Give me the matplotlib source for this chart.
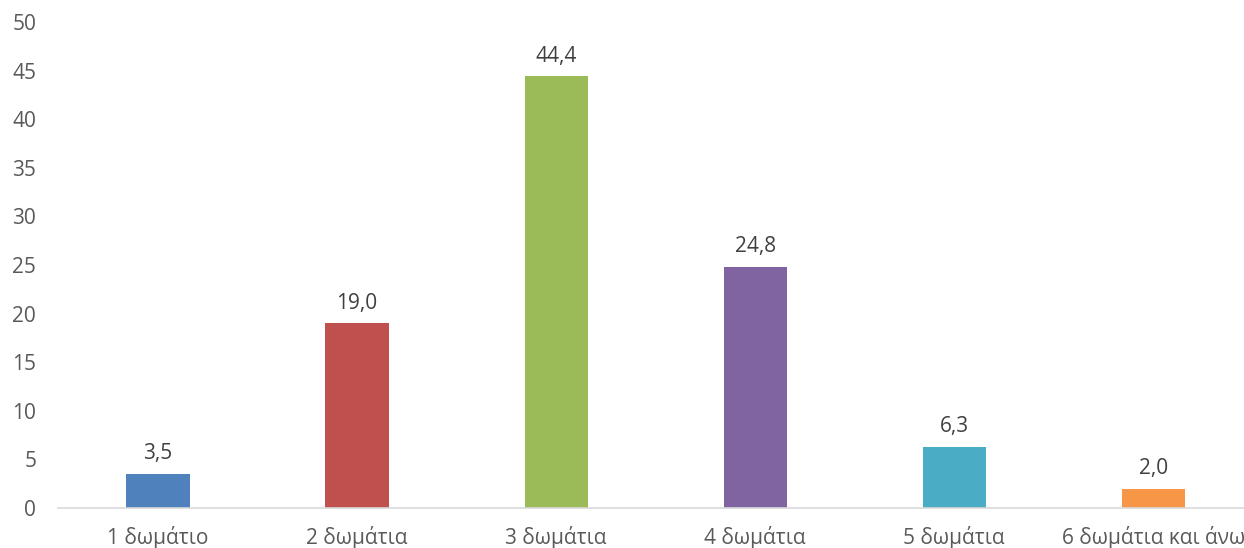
import matplotlib.pyplot as plt

plt.rcParams['font.family'] = ['Open Sans', 'DejaVu Sans']

categories = ["1 δωμάτιο", "2 δωμάτια", "3 δωμάτια", "4 δωμάτια", "5 δωμάτια", "6 δωμάτια και άνω"]
values = [3.5, 19.0, 44.4, 24.8, 6.3, 2.0]
colors = ["#4F81BD", "#C0504D", "#9BBB59", "#8064A2", "#4BACC6", "#F79646"]
yticks = [0, 5, 10, 15, 20, 25, 30, 35, 40, 45, 50]

text_color = "#595959"

fig = plt.figure(figsize=(12.44, 5.48), dpi=100)
ax = fig.add_axes([0.047, 0.073, 0.960, 0.887])

x = range(len(categories))
bars = ax.bar(x, values, width=0.317, color=colors)

for xi, v in zip(x, values):
    ax.annotate(f"{v:.1f}".replace(".", ","), (xi, v), xytext=(0, 7),
                textcoords="offset points", ha="center", va="bottom",
                fontsize=15, color="#404040")

ax.set_xlim(-0.5, len(categories) - 0.5)
ax.set_ylim(0, 50)
ax.set_yticks(yticks)
ax.set_xticks(list(x))
ax.set_xticklabels(categories)

for side in ["top", "right", "left"]:
    ax.spines[side].set_visible(False)
ax.spines["bottom"].set_color("#D9D9D9")
ax.spines["bottom"].set_linewidth(1.2)

ax.tick_params(axis="y", length=0, pad=16, labelsize=15, labelcolor=text_color)
ax.tick_params(axis="x", length=0, pad=13, labelsize=15, labelcolor=text_color)

fig.savefig("out.png", dpi=100)
